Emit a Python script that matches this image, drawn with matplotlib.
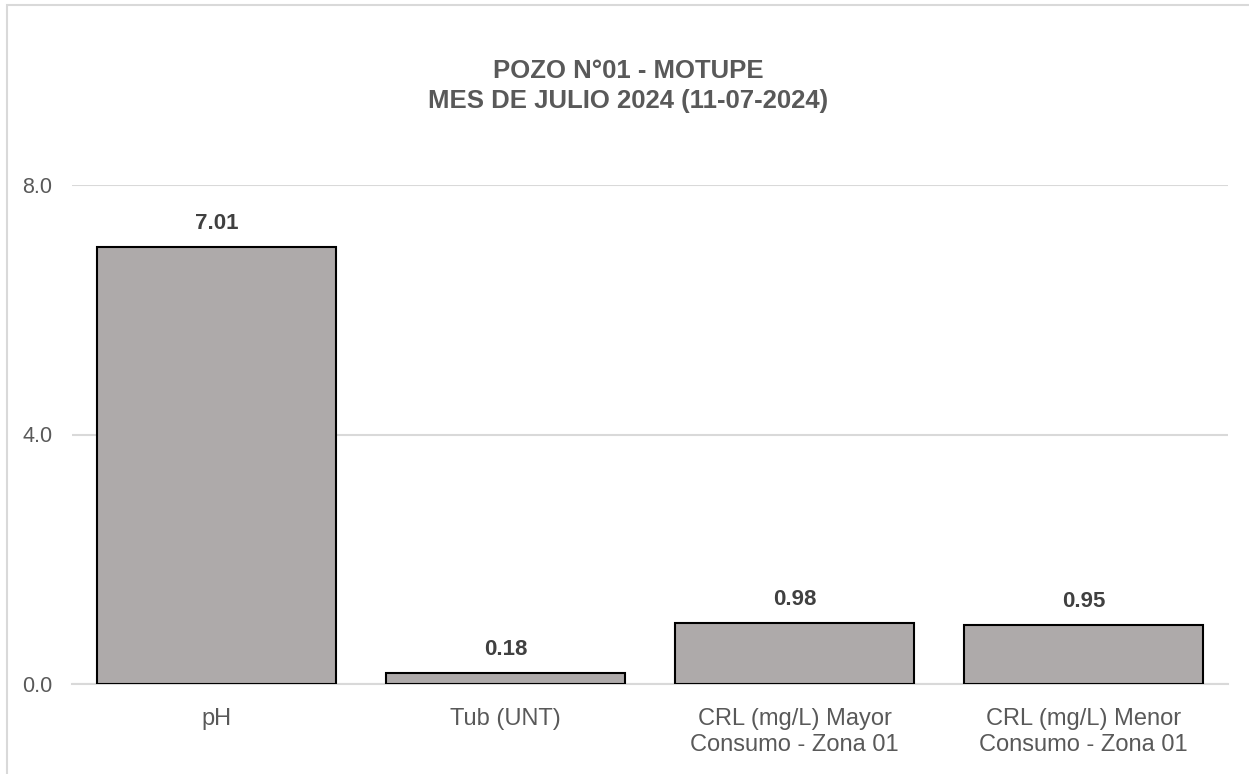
import matplotlib
matplotlib.use('Agg')
import matplotlib.pyplot as plt
from matplotlib.patches import Rectangle

# datos del grafico
categorias = ['pH', 'Tub (UNT)', 'CRL (mg/L) Mayor\nConsumo - Zona 01', 'CRL (mg/L) Menor\nConsumo - Zona 01']
valores = [7.01, 0.18, 0.98, 0.95]
etiquetas = ['7.01', '0.18', '0.98', '0.95']
ticks_y = [0.0, 4.0, 8.0]

plt.rcParams['font.family'] = ['Liberation Sans', 'DejaVu Sans']

fig = plt.figure(figsize=(12.49, 7.74), dpi=100)
W, H = 1249, 774

# borde del area del grafico (recortado a la derecha y abajo)
fig.patches.append(Rectangle((7 / W, -0.1), 1.2, 1 - 5 / H + 0.1, transform=fig.transFigure,
                             facecolor='white', edgecolor='#d9d9d9', linewidth=1.5, zorder=-1))

ax = fig.add_axes([72 / W, 1 - 684 / H, (1228 - 72) / W, (684 - 185) / H])
ax.set_facecolor('none')

x = range(len(categorias))
barras = ax.bar(x, valores, width=0.83, color='#aeaaaa', edgecolor='black', linewidth=1.5, zorder=3)

for b, t in zip(barras, etiquetas):
    ax.annotate(t, (b.get_x() + b.get_width() / 2, b.get_height()), xytext=(0, 9),
                textcoords='offset points', ha='center', va='bottom',
                fontsize=16, fontweight='bold', color='#404040')

ax.set_xlim(-0.5, 3.5)
ax.set_ylim(0, 8)
ax.set_yticks(ticks_y)
ax.set_yticklabels(['%.1f' % v for v in ticks_y])
ax.set_xticks(list(x))
ax.set_xticklabels(categorias, linespacing=1.25)
ax.tick_params(axis='both', length=0, colors='#595959')
ax.tick_params(axis='x', pad=17, labelsize=17)
ax.tick_params(axis='y', pad=14, labelsize=15.5)
ax.grid(axis='y', color='#d9d9d9', linewidth=1.5, zorder=0)
for s in ['top', 'right', 'left']:
    ax.spines[s].set_visible(False)
ax.spines['bottom'].set_color('#d9d9d9')
ax.spines['bottom'].set_linewidth(1.5)

fig.text(628 / W, 1 - 86 / H, 'POZO N°01 - MOTUPE\nMES DE JULIO 2024 (11-07-2024)',
         ha='center', va='center', fontsize=18.5, fontweight='bold', color='#595959', linespacing=1.3)

fig.savefig('out.png', dpi=100)
